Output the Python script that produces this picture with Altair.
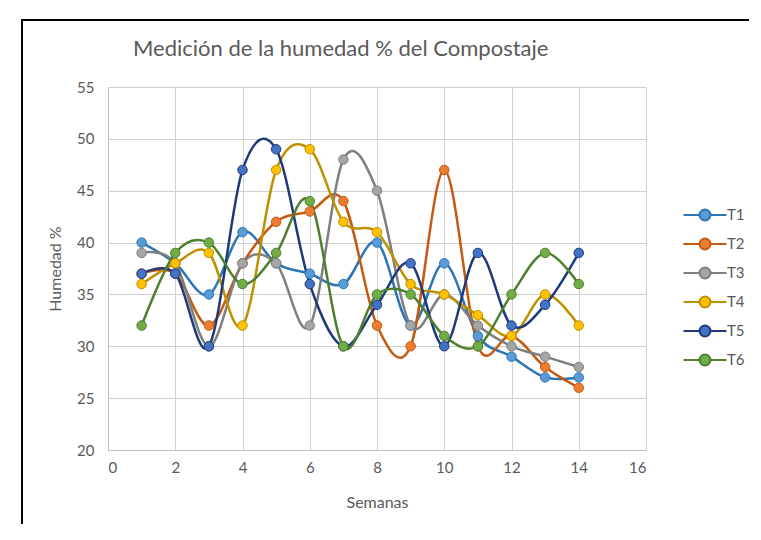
import altair as alt
import pandas as pd

semanas = list(range(1, 15))
series = ["T1", "T2", "T3", "T4", "T5", "T6"]
T1 = [40, 38, 35, 41, 38, 37, 36, 40, 32, 38, 31, 29, 27, 27]
T2 = [37, 37, 32, 38, 42, 43, 44, 32, 30, 47, 30, 31, 28, 26]
T3 = [39, 38, 30, 38, 38, 32, 48, 45, 32, 35, 32, 30, 29, 28]
T4 = [36, 38, 39, 32, 47, 49, 42, 41, 36, 35, 33, 31, 35, 32]
T5 = [37, 37, 30, 47, 49, 36, 30, 34, 38, 30, 39, 32, 34, 39]
T6 = [32, 39, 40, 36, 39, 44, 30, 35, 35, 31, 30, 35, 39, 36]
x_ticks = list(range(0, 17, 2))
y_ticks = list(range(20, 56, 5))
titulo = "Medición de la humedad % del Compostaje"

line_colors = ["#2E75B6", "#C55A11", "#7F7F7F", "#BF9000", "#1F3A7A", "#4E7F2E"]
marker_colors = ["#5B9BD5", "#ED7D31", "#A5A5A5", "#FFC000", "#4472C4", "#70AD47"]

rows = []
for name, vals in zip(series, [T1, T2, T3, T4, T5, T6]):
    for w, v in zip(semanas, vals):
        rows.append({"Semana": w, "Humedad": v, "Serie": name})
df = pd.DataFrame(rows)

FONT = "Lato"
GREY = "#595959"

legend_path = ("M-1.21,0H-0.31M0.31,0H1.21"
               "M-0.31,0A0.31,0.31,0,1,1,0.31,0A0.31,0.31,0,1,1,-0.31,0Z")
legend = alt.Legend(
    title=None, orient="none", legendX=578, legendY=109,
    symbolType=legend_path, symbolSize=1260, symbolStrokeWidth=2,
    symbolOpacity=1, labelOffset=3, rowPadding=0, padding=0,
    labelFont=FONT, labelFontSize=15, labelColor=GREY,
)

x = alt.X("Semana:Q", scale=alt.Scale(domain=[0, 16], nice=False),
          axis=alt.Axis(values=x_ticks, title="Semanas", format="d"))
y = alt.Y("Humedad:Q", scale=alt.Scale(domain=[20, 55], nice=False, zero=False),
          axis=alt.Axis(values=y_ticks, title="Humedad %", format="d"))

stroke_enc = alt.Stroke("Serie:N", scale=alt.Scale(domain=series, range=line_colors),
                        legend=legend)
fill_enc = alt.Fill("Serie:N", scale=alt.Scale(domain=series, range=marker_colors),
                    legend=legend)

lines = alt.Chart(df).mark_line(interpolate="cardinal", tension=0, strokeWidth=2.5).encode(
    x=x, y=y, stroke=stroke_enc
)
points = alt.Chart(df).mark_circle(size=90, opacity=1, strokeWidth=1).encode(
    x=x, y=y, fill=fill_enc, stroke=stroke_enc
)

one = pd.DataFrame({"a": [0]})
border_left = alt.Chart(one).mark_rule(color="black", strokeWidth=2).encode(
    x=alt.value(-86), y=alt.value(-67), y2=alt.value(520)
)
border_top = alt.Chart(one).mark_rule(color="black", strokeWidth=2).encode(
    x=alt.value(-87), x2=alt.value(700), y=alt.value(-67)
)
title_mark = alt.Chart(one).mark_text(
    text=titulo, align="left", baseline="alphabetic",
    font=FONT, fontSize=22, color=GREY,
).encode(x=alt.value(25), y=alt.value(-31))

chart = alt.layer(lines, points, border_left, border_top, title_mark).properties(
    width=538, height=363,
    autosize=alt.AutoSizeParams(type="none"),
    padding={"left": 100, "top": 79, "right": 103, "bottom": 74},
).configure_view(stroke=None).configure_axis(
    grid=True, gridColor="#D0D0D0", gridWidth=1,
    domainColor="#BFBFBF", ticks=False,
    labelFont=FONT, labelFontSize=15, labelColor=GREY,
    titleFont=FONT, titleFontSize=16, titleColor=GREY, titleFontWeight="normal",
).configure_axisX(labelPadding=10, titlePadding=19).configure_axisY(
    labelPadding=14, titlePadding=13
)

chart.save("out.html", embed_options={"renderer": "svg", "actions": False})
